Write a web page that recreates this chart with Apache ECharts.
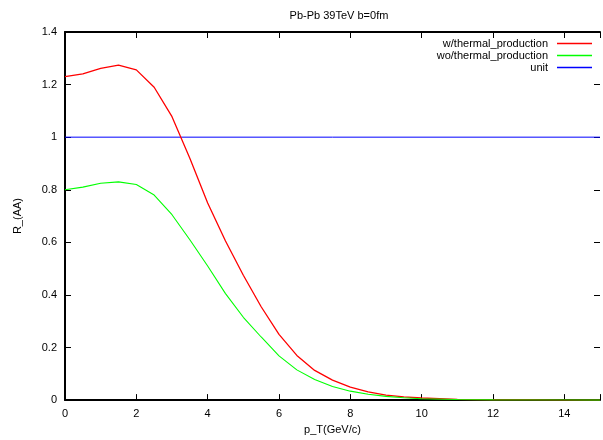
<!DOCTYPE html>
<html><head><meta charset="utf-8">
<script src="https://cdn.jsdelivr.net/npm/echarts@6/dist/echarts.min.js"></script>
<style>html,body{margin:0;padding:0;background:#fff}#c{width:603px;height:440px}</style>
</head><body><div id="c"></div>
<script>
const ptValues = [0,0.5,1,1.5,2,2.5,3,3.5,4,4.5,5,5.5,6,6.5,7,7.5,8,8.5,9,9.5,10,11,12,13,14,15];
const withThermal = [1.23,1.241,1.262,1.274,1.256,1.19,1.078,0.92,0.75,0.605,0.475,0.355,0.25,0.17,0.113,0.076,0.049,0.031,0.019,0.012,0.008,0.003,0.0012,0.0005,0.0002,0.0001];
const withoutThermal = [0.80,0.81,0.825,0.83,0.82,0.78,0.705,0.61,0.51,0.405,0.315,0.24,0.168,0.115,0.078,0.052,0.034,0.022,0.014,0.009,0.005,0.002,0.0008,0.0003,0.0001,0.00005];
const unitX = [0,15];
const unitY = [1,1];
const seriesNames = ['w/thermal_production','wo/thermal_production','unit'];
const xTicks = [0,2,4,6,8,10,12,14];
const yTicks = [0,0.2,0.4,0.6,0.8,1,1.2,1.4];

const font = 'Liberation Sans, Arial, sans-serif';
const chart = echarts.init(document.getElementById('c'));
const pairs = (xs, ys) => xs.map((x,i)=>[x,ys[i]]);
const colors = ['#ff0000','#00ff00','#0000ff'];
const legendTops = [38,50,62];
const tick = {inside:true,length:6,lineStyle:{color:'#000',width:1}};
const axLine = {show:true,onZero:false,lineStyle:{color:'#000',width:2}};
chart.setOption({
  animation:false,
  title:{text:'Pb-Pb 39TeV b=0fm',left:334,top:5,textAlign:'center',textStyle:{fontFamily:font,fontSize:11,fontWeight:'normal',color:'#000'}},
  legend: seriesNames.map((n,i)=>({
    data:[{name:n,icon:'rect',itemStyle:{color:colors[i],borderWidth:0}}],
    right:11, top:legendTops[i], align:'right', orient:'vertical',
    itemWidth:35, itemHeight:1.5, itemGap:0,
    padding:0,
    textStyle:{fontFamily:font,fontSize:11,color:'#000',padding:[0,4,0,0]}
  })),
  grid:{left:65,right:-3,top:32,bottom:39},
  xAxis:[{
    type:'value',min:0,max:15,interval:2,position:'bottom',
    name:'p_T(GeV/c)',nameLocation:'middle',nameGap:22,
    nameTextStyle:{fontFamily:font,fontSize:11,color:'#000'},
    axisLine:axLine, axisTick:tick,
    axisLabel:{fontFamily:font,fontSize:11,color:'#000',margin:8,
      formatter:v=>xTicks.includes(v)?String(v):''},
    splitLine:{show:false}
  },{
    type:'value',min:0,max:15,interval:2,position:'top',
    axisLine:axLine, axisTick:tick,
    axisLabel:{show:false},splitLine:{show:false}
  }],
  yAxis:[{
    type:'value',min:0,max:1.4,interval:0.2,position:'left',
    name:'R_(AA)',nameLocation:'middle',nameGap:42,nameRotate:90,
    nameTextStyle:{fontFamily:font,fontSize:11,color:'#000'},
    axisLine:axLine, axisTick:tick,
    axisLabel:{fontFamily:font,fontSize:11,color:'#000',margin:8,
      formatter:v=>{const t=yTicks.find(y=>Math.abs(y-v)<1e-9);return t===undefined?'':String(parseFloat(t.toFixed(1)));}},
    splitLine:{show:false}
  },{
    type:'value',min:0,max:1.4,interval:0.2,position:'right',
    axisLine:{show:false,onZero:false}, axisTick:{show:true,inside:true,length:6,lineStyle:{color:'#000',width:1}},
    axisLabel:{show:false},splitLine:{show:false}
  }],
  series:[
    {name:seriesNames[0],type:'line',data:pairs(ptValues,withThermal),showSymbol:false,lineStyle:{color:colors[0],width:1.3},itemStyle:{color:colors[0]},z:3},
    {name:seriesNames[1],type:'line',data:pairs(ptValues,withoutThermal),showSymbol:false,lineStyle:{color:colors[1],width:1.1},itemStyle:{color:colors[1]},z:3},
    {name:seriesNames[2],type:'line',data:pairs(unitX,unitY),showSymbol:false,lineStyle:{color:colors[2],width:1},itemStyle:{color:colors[2]},z:2}
  ]
});
</script></body></html>
